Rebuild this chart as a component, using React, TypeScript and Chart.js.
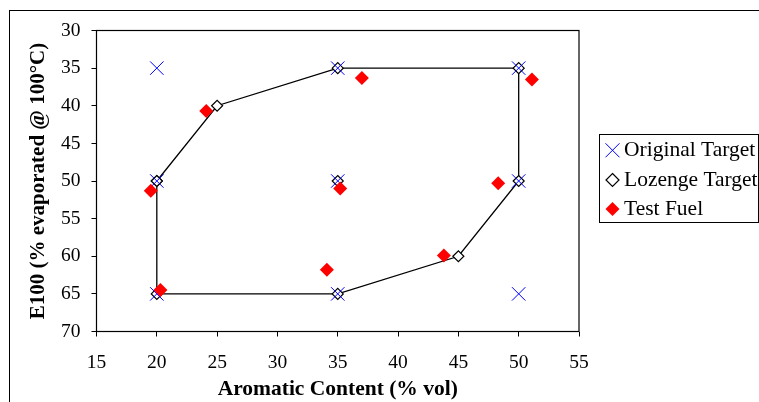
import React, { useEffect, useRef } from 'react';
import { Chart, registerables } from 'chart.js';
Chart.register(...registerables);

const X_MIN = 15;
const X_MAX = 55;
const X_STEP = 5;
const Y_MIN = 30;
const Y_MAX = 70;
const Y_STEP = 5;

const originalTargetX = [20, 35, 50, 20, 35, 50, 20, 35, 50];
const originalTargetY = [35, 35, 35, 50, 50, 50, 65, 65, 65];

const lozengeBoundaryX = [20, 25, 35, 50, 50, 45, 35, 20, 20];
const lozengeBoundaryY = [50, 40, 35, 35, 50, 60, 65, 65, 50];
const lozengeCentreX = [35];
const lozengeCentreY = [50];

const testFuelX = [19.5, 24.1, 37.0, 51.1, 35.2, 48.3, 20.3, 34.1, 43.8];
const testFuelY = [51.3, 40.7, 36.3, 36.5, 51.0, 50.3, 64.5, 61.8, 59.9];

const seriesLabels = ['Original Target', 'Lozenge Target', 'Test Fuel'];
const xTitle = 'Aromatic Content (% vol)';
const yTitle = 'E100 (% evaporated @ 100°C)';

const SERIF = '"Liberation Serif", "Times New Roman", serif';

function toPoints(xs: number[], ys: number[]) {
  return xs.map((x, i) => ({ x, y: ys[i] }));
}

function drawMarker(ctx: CanvasRenderingContext2D, kind: number, x: number, y: number) {
  ctx.save();
  if (kind === 0) {
    const h = 7;
    ctx.strokeStyle = '#0000FF';
    ctx.lineWidth = 1;
    ctx.beginPath();
    ctx.moveTo(x - h, y - h);
    ctx.lineTo(x + h, y + h);
    ctx.moveTo(x - h, y + h);
    ctx.lineTo(x + h, y - h);
    ctx.stroke();
  } else if (kind === 1) {
    const h = 6.5;
    ctx.fillStyle = '#fff';
    ctx.strokeStyle = '#000';
    ctx.lineWidth = 1.2;
    ctx.beginPath();
    ctx.moveTo(x, y - h);
    ctx.lineTo(x + h, y);
    ctx.lineTo(x, y + h);
    ctx.lineTo(x - h, y);
    ctx.closePath();
    ctx.fill();
    ctx.stroke();
  } else {
    const h = 7;
    ctx.fillStyle = '#FF0000';
    ctx.beginPath();
    ctx.moveTo(x, y - h);
    ctx.lineTo(x + h, y);
    ctx.lineTo(x, y + h);
    ctx.lineTo(x - h, y);
    ctx.closePath();
    ctx.fill();
  }
  ctx.restore();
}

const framePlugin = {
  id: 'frame',
  beforeDraw(chart: any) {
    const ctx = chart.ctx as CanvasRenderingContext2D;
    ctx.save();
    ctx.fillStyle = '#fff';
    ctx.fillRect(0, 0, chart.width, chart.height);
    ctx.strokeStyle = '#000';
    ctx.lineWidth = 1;
    ctx.strokeRect(9.5, 10.5, 900, 600);
    ctx.restore();
  },
  beforeDatasetsDraw(chart: any) {
    const ctx = chart.ctx as CanvasRenderingContext2D;
    const a = chart.chartArea;
    ctx.save();
    ctx.strokeStyle = '#000';
    ctx.lineWidth = 1.2;
    ctx.strokeRect(a.left, a.top, a.right - a.left, a.bottom - a.top);
    ctx.restore();
  },
  afterDraw(chart: any) {
    const ctx = chart.ctx as CanvasRenderingContext2D;
    ctx.save();
    ctx.strokeStyle = '#000';
    ctx.lineWidth = 1;
    ctx.strokeRect(599.5, 134.5, 159, 88);
    ctx.fillStyle = '#000';
    ctx.font = `21.5px ${SERIF}`;
    ctx.textBaseline = 'middle';
    ctx.textAlign = 'left';
    const ys = [150.3, 180, 209];
    seriesLabels.forEach((label, i) => {
      drawMarker(ctx, i, 612.5, ys[i]);
      ctx.fillText(label, 624, ys[i]);
    });
    ctx.restore();
  },
};

export default function App() {
  const ref = useRef<HTMLCanvasElement | null>(null);

  useEffect(() => {
    if (!ref.current) return;
    const lozengeData: any[] = [
      ...toPoints(lozengeBoundaryX, lozengeBoundaryY),
      { x: lozengeCentreX[0], y: null },
      ...toPoints(lozengeCentreX, lozengeCentreY),
    ];
    const chart = new Chart(ref.current, {
      type: 'scatter',
      data: {
        datasets: [
          {
            label: seriesLabels[0],
            data: toPoints(originalTargetX, originalTargetY),
            pointStyle: 'crossRot',
            pointRadius: 9.5,
            pointBorderColor: '#0000FF',
            pointBackgroundColor: '#0000FF',
            pointBorderWidth: 1,
            showLine: false,
            order: 1,
          },
          {
            label: seriesLabels[1],
            data: lozengeData,
            pointStyle: 'rectRot',
            pointRadius: 5.5,
            pointBorderColor: '#000',
            pointBackgroundColor: '#fff',
            pointBorderWidth: 1.2,
            borderColor: '#000',
            borderWidth: 1.3,
            showLine: true,
            spanGaps: false,
            tension: 0,
            order: 2,
          },
          {
            label: seriesLabels[2],
            data: toPoints(testFuelX, testFuelY),
            pointStyle: 'rectRot',
            pointRadius: 7,
            pointBorderColor: '#FF0000',
            pointBackgroundColor: '#FF0000',
            pointBorderWidth: 0,
            showLine: false,
            order: 0,
          },
        ] as any,
      },
      options: {
        animation: false,
        responsive: false,
        maintainAspectRatio: false,
        layout: { padding: { top: 30.5, right: 180, bottom: 0, left: 0 } },
        plugins: {
          legend: { display: false },
          tooltip: { enabled: false },
        },
        scales: {
          x: {
            type: 'linear',
            min: X_MIN,
            max: X_MAX,
            ticks: {
              stepSize: X_STEP,
              color: '#000',
              font: { family: SERIF, size: 19.5 },
              padding: 15,
            },
            grid: {
              drawOnChartArea: false,
              drawTicks: true,
              tickLength: 5,
              color: '#000',
              lineWidth: 1,
            },
            border: { display: false },
            title: {
              display: true,
              text: xTitle,
              color: '#000',
              font: { family: SERIF, size: 21.5, weight: 'bold' },
              padding: { top: 0, bottom: 0 },
            },
            afterFit: (s: any) => {
              s.height = 70.5;
            },
          },
          y: {
            type: 'linear',
            reverse: true,
            min: Y_MIN,
            max: Y_MAX,
            ticks: {
              stepSize: Y_STEP,
              color: '#000',
              font: { family: SERIF, size: 19.5 },
              padding: 11,
            },
            grid: {
              drawOnChartArea: false,
              drawTicks: true,
              tickLength: 5,
              color: '#000',
              lineWidth: 1,
            },
            border: { display: false },
            title: {
              display: true,
              text: yTitle,
              color: '#000',
              font: { family: SERIF, size: 21, weight: 'bold' },
              padding: { top: 26, bottom: 0 },
            },
            afterFit: (s: any) => {
              s.width = 96.5;
            },
          },
        },
      } as any,
      plugins: [framePlugin],
    });
    return () => chart.destroy();
  }, []);

  return (
    <div style={{ position: 'absolute', left: 0, top: 0, width: 759, height: 402 }}>
      <canvas ref={ref} width={759} height={402} style={{ display: 'block', width: 759, height: 402 }} />
    </div>
  );
}
